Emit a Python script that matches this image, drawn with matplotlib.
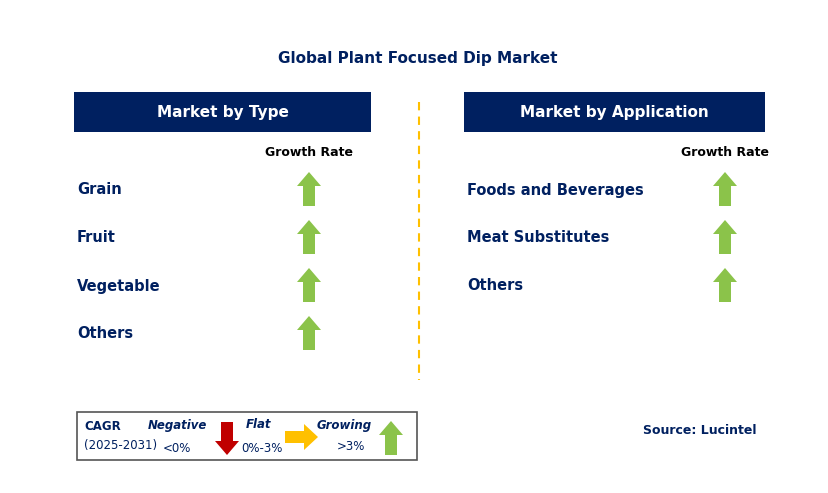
import matplotlib
matplotlib.use("Agg")
import matplotlib.pyplot as plt
from matplotlib.patches import Rectangle, Polygon

title = "Global Plant Focused Dip Market"
type_categories = ["Grain", "Fruit", "Vegetable", "Others"]
type_trend = ["up", "up", "up", "up"]
app_categories = ["Foods and Beverages", "Meat Substitutes", "Others"]
app_trend = ["up", "up", "up"]

NAVY = "#002060"
GREEN = "#8BC34A"
fig = plt.figure(figsize=(8.29, 4.93), dpi=100)
ax = fig.add_axes([0, 0, 1, 1])
ax.set_xlim(0, 829); ax.set_ylim(493, 0); ax.axis("off")

def up_arrow(cx, top, bottom, w=24, sw=12, hh=14, color=GREEN):
    pts = [(cx, top), (cx + w/2, top + hh), (cx + sw/2, top + hh), (cx + sw/2, bottom),
           (cx - sw/2, bottom), (cx - sw/2, top + hh), (cx - w/2, top + hh)]
    ax.add_patch(Polygon(pts, closed=True, color=color, lw=0))

def down_arrow(cx, top, bottom, w=24, sw=12, hh=14, color="#C00000"):
    pts = [(cx, bottom), (cx + w/2, bottom - hh), (cx + sw/2, bottom - hh), (cx + sw/2, top),
           (cx - sw/2, top), (cx - sw/2, bottom - hh), (cx - w/2, bottom - hh)]
    ax.add_patch(Polygon(pts, closed=True, color=color, lw=0))

def right_arrow(x0, x1, cy, h=26, sh=12, hw=14, color="#FFC000"):
    pts = [(x1, cy), (x1 - hw, cy - h/2), (x1 - hw, cy - sh/2), (x0, cy - sh/2),
           (x0, cy + sh/2), (x1 - hw, cy + sh/2), (x1 - hw, cy + h/2)]
    ax.add_patch(Polygon(pts, closed=True, color=color, lw=0))

ax.text(418, 58, title, ha="center", va="center", fontsize=11, fontweight="bold", color=NAVY)

def panel(x0, x1, header, cats, trends, arrow_x):
    ax.add_patch(Rectangle((x0, 92), x1 - x0, 40, color=NAVY, lw=0))
    ax.text((x0 + x1) / 2, 112, header, ha="center", va="center", fontsize=11,
            fontweight="bold", color="white")
    ax.text(arrow_x, 152, "Growth Rate", ha="center", va="center", fontsize=9,
            fontweight="bold", color="black")
    for i, (c, t) in enumerate(zip(cats, trends)):
        y = 190 + 48 * i
        ax.text(x0 + 3, y, c, ha="left", va="center", fontsize=10.5, fontweight="bold", color=NAVY)
        if t == "up":
            up_arrow(arrow_x, y - 18, y + 16)

panel(74, 371, "Market by Type", type_categories, type_trend, 309)
panel(464, 765, "Market by Application", app_categories, app_trend, 725)

ax.plot([419, 419], [102, 380], ls=(0, (4, 3)), color="#FFC000", lw=1.5)

# legend
ax.add_patch(Rectangle((77, 412), 340, 48, fill=False, ec="#555555", lw=1.2))
ax.text(84, 427, "CAGR", fontsize=8.5, fontweight="bold", color=NAVY, va="center")
ax.text(84, 445, "(2025-2031)", fontsize=8.5, color=NAVY, va="center")
ax.text(177, 425, "Negative", fontsize=8.5, fontweight="bold", style="italic", color=NAVY, ha="center", va="center")
ax.text(177, 448, "<0%", fontsize=8.5, color=NAVY, ha="center", va="center")
down_arrow(227, 422, 455)
ax.text(259, 425, "Flat", fontsize=8.5, fontweight="bold", style="italic", color=NAVY, ha="center", va="center")
ax.text(262, 448, "0%-3%", fontsize=8.5, color=NAVY, ha="center", va="center")
right_arrow(285, 318, 437)
ax.text(344, 425, "Growing", fontsize=8.5, fontweight="bold", style="italic", color=NAVY, ha="center", va="center")
ax.text(351, 447, ">3%", fontsize=8.5, color=NAVY, ha="center", va="center")
up_arrow(391, 421, 455)

ax.text(700, 430, "Source: Lucintel", fontsize=9, fontweight="bold", color=NAVY, ha="center", va="center")

fig.savefig("out.png", dpi=100)
